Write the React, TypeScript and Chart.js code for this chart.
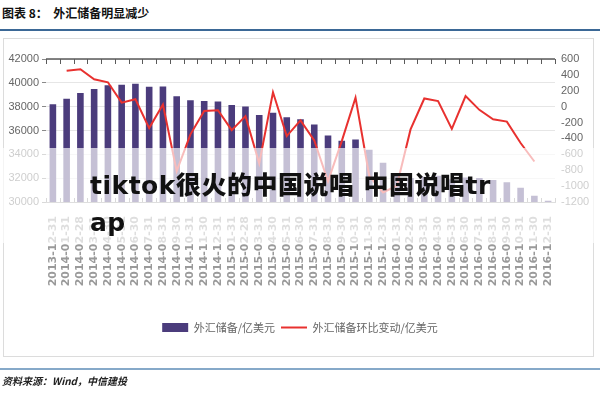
import React, { useEffect, useRef } from "react";
import { Chart, registerables } from "chart.js";

Chart.register(...registerables);

const categories = [
  "2013-12-31", "2014-01-31", "2014-02-28", "2014-03-31", "2014-04-30", "2014-05-31", "2014-06-30",
  "2014-07-31", "2014-08-31", "2014-09-30", "2014-10-31", "2014-11-30", "2014-12-31",
  "2015-01-31", "2015-02-28", "2015-03-31", "2015-04-30", "2015-05-31", "2015-06-30",
  "2015-07-31", "2015-08-31", "2015-09-30", "2015-10-31", "2015-11-30", "2015-12-31",
  "2016-01-31", "2016-02-29", "2016-03-31", "2016-04-30", "2016-05-31", "2016-06-30",
  "2016-07-31", "2016-08-31", "2016-09-30", "2016-10-31", "2016-11-30", "2016-12-31",
];

const reserves = [
  38213, 38666, 39137, 39481, 39788, 39839, 39932, 39662, 39688, 38877, 38529, 38474, 38430,
  38134, 38015, 37300, 37481, 37111, 36938, 36513, 35573, 35141, 35255, 34383, 33304,
  32309, 32023, 32126, 32197, 31917, 32051, 32011, 31852, 31664, 31206, 30516, 30105,
];

const monthlyChange = [
  null, 453, 471, 344, 307, 51, 93, -270, 26, -811, -348, -55, -44,
  -296, -119, -715, 181, -370, -173, -425, -939, -433, 114, -872, -1079,
  -995, -286, 103, 71, -280, 134, -40, -159, -188, -458, -690, null,
];

const leftTicks = { min: 30000, max: 42000, step: 2000 };
const rightTicks = { min: -1200, max: 600, step: 200 };

const seriesNames = ["外汇储备/亿美元", "外汇储备环比变动/亿美元"];
const titleText = "图表 8：  外汇储备明显减少";
const sourceText = "资料来源：Wind，中信建投";
const overlayLine1 = "tiktok很火的中国说唱 中国说唱tr";
const overlayLine2 = "ap";

const BAR_COLOR = "#4b3c7c";
const LINE_COLOR = "#e8312f";

const axisDecor = {
  id: "axisDecor",
  afterDraw(chart: any) {
    const { ctx, chartArea, scales } = chart;
    const x = scales.x;
    const n = categories.length;
    const w = x.getPixelForValue(1) - x.getPixelForValue(0);
    const start = x.getPixelForValue(0) - w / 2;
    ctx.save();
    ctx.strokeStyle = "#5a5a5a";
    ctx.lineWidth = 1.5;
    ctx.beginPath();
    ctx.moveTo(chartArea.left, chartArea.top);
    ctx.lineTo(chartArea.right, chartArea.top);
    ctx.stroke();
    ctx.lineWidth = 1;
    ctx.beginPath();
    for (let i = 0; i <= n; i++) {
      const px = Math.round(start + i * w) + 0.5;
      ctx.moveTo(px, chartArea.top);
      ctx.lineTo(px, chartArea.top + 5);
    }
    ctx.stroke();
    ctx.strokeStyle = "#8a8a8a";
    ctx.beginPath();
    for (let i = 0; i <= n; i++) {
      const px = Math.round(start + i * w) + 0.5;
      ctx.moveTo(px, chartArea.bottom);
      ctx.lineTo(px, chartArea.bottom - 4);
    }
    ctx.stroke();
    ctx.restore();
  },
};

export default function App() {
  const ref = useRef<HTMLCanvasElement | null>(null);

  useEffect(() => {
    if (!ref.current) return;
    const chart = new Chart(ref.current, {
      type: "bar",
      data: {
        labels: categories,
        datasets: [
          {
            type: "bar",
            label: seriesNames[0],
            data: reserves,
            backgroundColor: BAR_COLOR,
            borderWidth: 0,
            barPercentage: 0.48,
            categoryPercentage: 1,
            yAxisID: "y",
            pointStyle: "rect",
            order: 2,
          } as any,
          {
            type: "line",
            label: seriesNames[1],
            data: monthlyChange,
            borderColor: LINE_COLOR,
            backgroundColor: LINE_COLOR,
            borderWidth: 2,
            pointRadius: 0,
            tension: 0,
            yAxisID: "y1",
            pointStyle: "line",
            order: 1,
          } as any,
        ],
      },
      options: {
        responsive: false,
        animation: false,
        layout: { padding: { top: 59, bottom: 57, left: 0, right: 0 } },
        plugins: {
          tooltip: { enabled: false },
          legend: {
            position: "bottom",
            labels: {
              usePointStyle: true,
              pointStyleWidth: 26,
              boxHeight: 9,
              padding: 6,
              color: "#666",
              font: { family: "'Noto Sans CJK SC', sans-serif", size: 11 },
              sort: (a: any, b: any) => a.datasetIndex - b.datasetIndex,
            },
          },
        },
        scales: {
          x: {
            type: "category",
            offset: true,
            grid: { display: false, drawTicks: false },
            border: { display: true, color: "#9a9a9a", width: 1 },
            ticks: {
              autoSkip: false,
              minRotation: 90,
              maxRotation: 90,
              padding: 14,
              color: "#9a9a9a",
              font: { family: "'DejaVu Sans', sans-serif", size: 11, weight: "bold" },
            },
            afterFit: (s: any) => {
              s.height = 114;
            },
          },
          y: {
            position: "left",
            min: leftTicks.min,
            max: leftTicks.max,
            grid: { color: "#e6e6e6", tickColor: "#8a8a8a", tickLength: 4 },
            border: { display: false },
            ticks: {
              stepSize: leftTicks.step,
              autoSkip: false,
              padding: 3,
              color: "#666",
              font: { family: "'Liberation Sans', sans-serif", size: 11 },
              callback: (v: any) => String(v),
            },
            afterFit: (s: any) => {
              s.width = 46;
            },
          },
          y1: {
            position: "right",
            min: rightTicks.min,
            max: rightTicks.max,
            grid: { display: false, drawTicks: false },
            border: { display: false },
            ticks: {
              stepSize: rightTicks.step,
              autoSkip: false,
              padding: 6,
              color: "#666",
              font: { family: "'Liberation Sans', sans-serif", size: 11 },
              callback: (v: any) => String(v),
            },
            afterFit: (s: any) => {
              s.width = 45;
            },
          },
        },
      },
      plugins: [axisDecor],
    } as any);
    return () => chart.destroy();
  }, []);

  return (
    <div
      style={{
        position: "fixed",
        left: 0,
        top: 0,
        width: 600,
        height: 400,
        background: "#fff",
        overflow: "hidden",
        fontFamily: "'Noto Sans CJK SC', sans-serif",
      }}
    >
      <div
        style={{
          position: "absolute",
          left: 2,
          top: 5,
          fontSize: 12,
          fontWeight: 700,
          color: "#111",
          whiteSpace: "pre",
          lineHeight: "16px",
        }}
      >
        {titleText}
      </div>
      <div style={{ position: "absolute", left: 0, top: 29, width: 600, height: 2, background: "#3b6896" }} />
      <div
        style={{
          position: "absolute",
          left: 3,
          top: 38,
          width: 591,
          height: 319,
          border: "1px solid #dcdcdc",
          boxSizing: "border-box",
        }}
      />
      <canvas ref={ref} width={600} height={400} style={{ position: "absolute", left: 0, top: 0 }} />
      <div style={{ position: "absolute", left: 0, top: 368, width: 600, height: 2, background: "#86a9c9" }} />
      <div
        style={{
          position: "absolute",
          left: 2,
          top: 374,
          fontSize: 10,
          fontStyle: "italic",
          fontWeight: 700,
          color: "#222",
          lineHeight: "14px",
        }}
      >
        {sourceText}
      </div>
      <div
        style={{
          position: "absolute",
          left: 0,
          top: 148,
          width: 600,
          height: 95,
          background: "rgba(255,255,255,0.68)",
        }}
      />
      <div
        style={{
          position: "absolute",
          left: 90,
          top: 167,
          fontSize: 25,
          fontWeight: 900,
          color: "#111",
          lineHeight: "37px",
          letterSpacing: "0.5px",
          whiteSpace: "nowrap",
          fontFamily: "'DejaVu Sans', 'Noto Sans CJK SC', sans-serif",
        }}
      >
        {overlayLine1}
        <br />
        {overlayLine2}
      </div>
    </div>
  );
}
